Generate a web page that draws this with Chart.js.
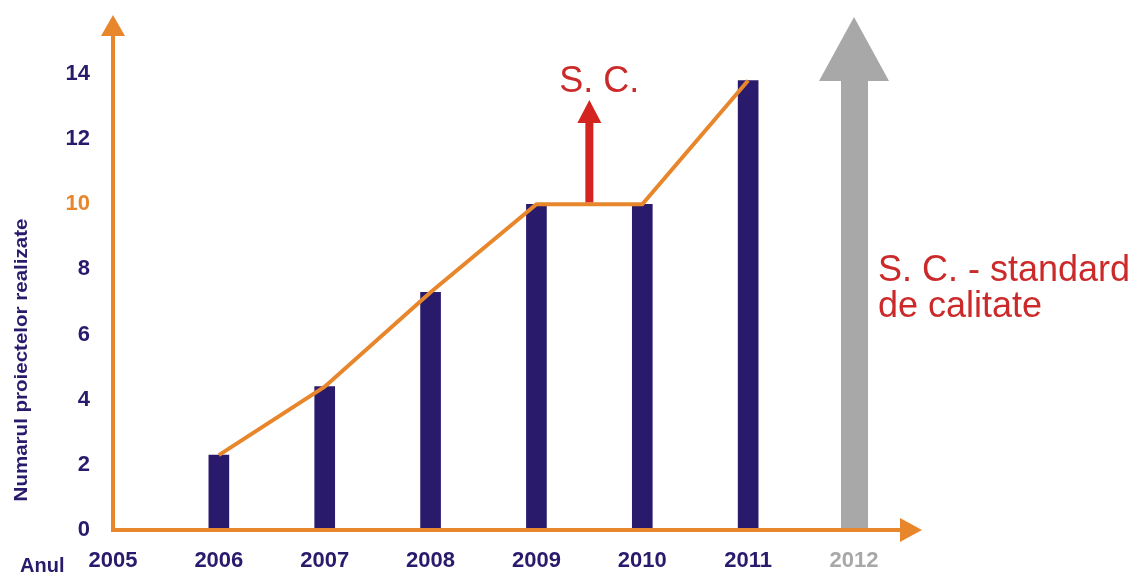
<!DOCTYPE html>
<html>
<head>
<meta charset="utf-8">
<script src="https://cdn.jsdelivr.net/npm/chart.js@4.4.1/dist/chart.umd.min.js"></script>
<style>
html,body{margin:0;padding:0;background:#fff;}
#wrap{width:1135px;height:576px;position:relative;}
</style>
</head>
<body>
<div id="wrap"><canvas id="grafic"></canvas></div>
<script>
// date
const ani = ['2005','2006','2007','2008','2009','2010','2011','2012'];
const proiecte = [null, 2.3, 4.4, 7.3, 10, 10, 13.8, null];
const tickuriY = [0, 2, 4, 6, 8, 10, 12, 14];
const tinta2012 = 15.75;           // varful sagetii gri
const scDeLa = 10, scPanaLa = 13.2; // sageata rosie S. C.

const PORTOCALIU = '#e8862c';
const BLEUMARIN = '#2a1a6c';
const GRI = '#a8a8a8';
const ROSU = '#d42420';
const FONT = '"Liberation Sans", Arial, sans-serif';

const desen = {
  id: 'desen',
  afterDatasetsDraw(chart){
    const ctx = chart.ctx, a = chart.chartArea;
    const x = chart.scales.x, y = chart.scales.y;
    ctx.save();

    // sageata gri 2012
    const gx = x.getPixelForValue(7);
    const gTop = y.getPixelForValue(tinta2012);
    const gBaza = gTop + 64;
    ctx.fillStyle = GRI;
    ctx.fillRect(gx - 13, gBaza, 27, a.bottom - gBaza);
    ctx.beginPath();
    ctx.moveTo(gx, gTop); ctx.lineTo(gx + 35, gBaza); ctx.lineTo(gx - 35, gBaza);
    ctx.closePath(); ctx.fill();

    // sageata rosie intre 2009 si 2010
    const rx = (x.getPixelForValue(4) + x.getPixelForValue(5)) / 2;
    const rJos = y.getPixelForValue(scDeLa) - 2;
    const rSus = y.getPixelForValue(scPanaLa);
    ctx.fillStyle = ROSU;
    ctx.fillRect(rx - 4, rSus + 22, 8, rJos - rSus - 22);
    ctx.beginPath();
    ctx.moveTo(rx, rSus); ctx.lineTo(rx + 12, rSus + 23); ctx.lineTo(rx - 12, rSus + 23);
    ctx.closePath(); ctx.fill();

    // axe cu sageti
    ctx.strokeStyle = PORTOCALIU;
    ctx.fillStyle = PORTOCALIU;
    ctx.lineWidth = 4;
    ctx.beginPath();
    ctx.moveTo(a.left, a.top + 18);
    ctx.lineTo(a.left, a.bottom);
    ctx.lineTo(a.right + 48, a.bottom);
    ctx.stroke();
    ctx.beginPath();
    ctx.moveTo(a.left, a.top - 2); ctx.lineTo(a.left + 12, a.top + 19); ctx.lineTo(a.left - 12, a.top + 19);
    ctx.closePath(); ctx.fill();
    ctx.beginPath();
    ctx.moveTo(a.right + 68, a.bottom); ctx.lineTo(a.right + 46, a.bottom - 12); ctx.lineTo(a.right + 46, a.bottom + 12);
    ctx.closePath(); ctx.fill();

    // texte
    ctx.fillStyle = '#cc2a2a';
    ctx.font = '36px ' + FONT;
    ctx.textAlign = 'center';
    ctx.textBaseline = 'alphabetic';
    ctx.fillText('S. C.', rx + 10, rSus - 8);
    ctx.textAlign = 'left';
    ctx.fillText('S. C. - standard', gx + 24, a.top + 264);
    ctx.fillText('de calitate', gx + 24, a.top + 300);

    ctx.fillStyle = BLEUMARIN;
    ctx.font = 'bold 20px ' + FONT;
    ctx.fillText('Anul', 20, 572);

    ctx.translate(22, 360);
    ctx.rotate(-Math.PI / 2);
    ctx.scale(1.08, 1);
    ctx.textAlign = 'center';
    ctx.textBaseline = 'middle';
    ctx.font = 'bold 19px ' + FONT;
    ctx.fillText('Numarul proiectelor realizate', 0, 0);
    ctx.restore();
  }
};

new Chart(document.getElementById('grafic'), {
  data: {
    labels: ani,
    datasets: [
      { type: 'line', data: proiecte, borderColor: PORTOCALIU, borderWidth: 4,
        pointRadius: 0, tension: 0, order: 0 },
      { type: 'bar', data: proiecte, backgroundColor: BLEUMARIN, barThickness: 20, order: 1 }
    ]
  },
  options: {
    responsive: true,
    maintainAspectRatio: false,
    animation: false,
    layout: { padding: { top: 17, right: 281, left: 0, bottom: 0 } },
    plugins: { legend: { display: false }, tooltip: { enabled: false } },
    scales: {
      x: {
        type: 'category',
        offset: false,
        grid: { display: false, drawTicks: false },
        border: { display: false },
        ticks: {
          padding: 18,
          maxRotation: 0,
          autoSkip: false,
          font: { family: FONT, size: 22, weight: 'bold' },
          color: c => c.index === 7 ? GRI : BLEUMARIN
        },
        afterFit: s => { s.height = 46; s.paddingLeft = 0; s.paddingRight = 0; }
      },
      y: {
        min: 0,
        max: tinta2012,
        grid: { display: false, drawTicks: false },
        border: { display: false },
        afterBuildTicks: s => { s.ticks = tickuriY.map(v => ({ value: v })); },
        ticks: {
          padding: 23,
          font: { family: FONT, size: 22, weight: 'bold' },
          color: c => c.tick.value === 10 ? PORTOCALIU : BLEUMARIN
        },
        afterFit: s => { s.width = 113; s.paddingTop = 0; s.paddingBottom = 0; }
      }
    }
  },
  plugins: [desen]
});
</script>
</body>
</html>
